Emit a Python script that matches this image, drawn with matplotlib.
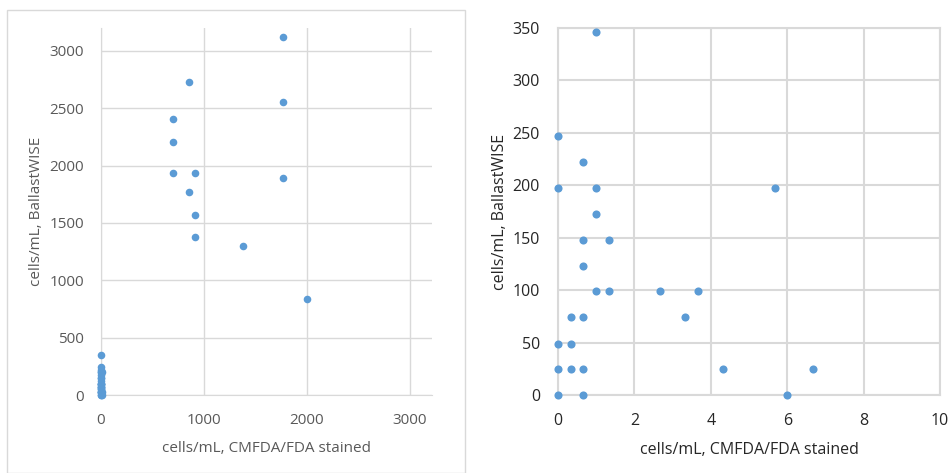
import matplotlib
matplotlib.use("Agg")
import matplotlib.pyplot as plt
from matplotlib.patches import Rectangle

# Low-range data (shown in both panels)
low_x = [1, 0, 0.667, 0, 1, 5.67, 1, 0.667, 1.33, 0.667, 1, 1.33, 2.67, 3.67,
         0.333, 0.667, 3.33, 0, 0.333, 0, 0.333, 0.667, 4.33, 6.67, 0, 0.667, 6]
low_y = [346, 247, 222, 197, 197, 197, 173, 148, 148, 123, 99, 99, 99, 99,
         74, 74, 74, 49, 49, 25, 25, 25, 25, 25, 0, 0, 0]

# High-range data (left panel only)
high_x = [1767, 857, 1767, 702, 702, 702, 916, 1767, 857, 916, 916, 1382, 2003]
high_y = [3125, 2725, 2555, 2406, 2208, 1940, 1940, 1892, 1767, 1572, 1375, 1302, 834]

left_xticks = [0, 1000, 2000, 3000]
left_yticks = [0, 500, 1000, 1500, 2000, 2500, 3000]
right_xticks = [0, 2, 4, 6, 8, 10]
right_yticks = [0, 50, 100, 150, 200, 250, 300, 350]

xlabel = "cells/mL, CMFDA/FDA stained"
ylabel = "cells/mL, BallastWISE"

plt.rcParams['font.family'] = ['Open Sans', 'DejaVu Sans']
W, H = 950, 473
fig = plt.figure(figsize=(W / 100, H / 100), dpi=100)
fig.patch.set_facecolor('white')

blue = '#5B9BD5'
grid = '#D9D9D9'

def px_axes(l, r, t, b):
    return fig.add_axes([l / W, 1 - b / H, (r - l) / W, (b - t) / H])

# chart border of left panel
fig.add_artist(Rectangle((7 / W, 0), (465 - 7) / W, 1 - 10 / H, transform=fig.transFigure,
                         fill=False, edgecolor=grid, linewidth=1))

# Left panel
ax1 = px_axes(101, 432, 28, 395)
ax1.scatter(low_x + high_x, low_y + high_y, s=30, color=blue, zorder=3, clip_on=False,
            linewidths=0)
ax1.set_xlim(0, 3214)
ax1.set_ylim(0, 3200)
ax1.set_xticks(left_xticks)
ax1.set_yticks(left_yticks)
ax1.grid(True, color=grid, linewidth=1)
ax1.set_axisbelow(True)
for s in ['top', 'right']:
    ax1.spines[s].set_visible(False)
for s in ['left', 'bottom']:
    ax1.spines[s].set_color(grid)
ax1.tick_params(length=0, labelsize=11, colors='#595959')
ax1.tick_params(axis='y', pad=12)
ax1.tick_params(axis='x', pad=13)
ax1.set_xlabel(xlabel, fontsize=11, color='#595959', labelpad=9)
ax1.set_ylabel(ylabel, fontsize=11, color='#595959', labelpad=4)

# Right panel
ax2 = px_axes(558, 940, 28, 395)
ax2.scatter(low_x, low_y, s=34, color=blue, zorder=3, clip_on=False, linewidths=0)
ax2.set_xlim(0, 10)
ax2.set_ylim(0, 350)
ax2.set_xticks(right_xticks)
ax2.set_yticks(right_yticks)
ax2.grid(True, color=grid, linewidth=1.5)
ax2.set_axisbelow(True)
for s in ax2.spines.values():
    s.set_color(grid)
    s.set_linewidth(1.5)
ax2.tick_params(length=0, labelsize=11.5, colors='#262626')
ax2.tick_params(axis='y', pad=13)
ax2.tick_params(axis='x', pad=13)
ax2.set_xlabel(xlabel, fontsize=11.5, color='#262626', labelpad=9)
ax2.set_ylabel(ylabel, fontsize=11.5, color='#262626', labelpad=3)

fig.savefig('out.png', dpi=100)
